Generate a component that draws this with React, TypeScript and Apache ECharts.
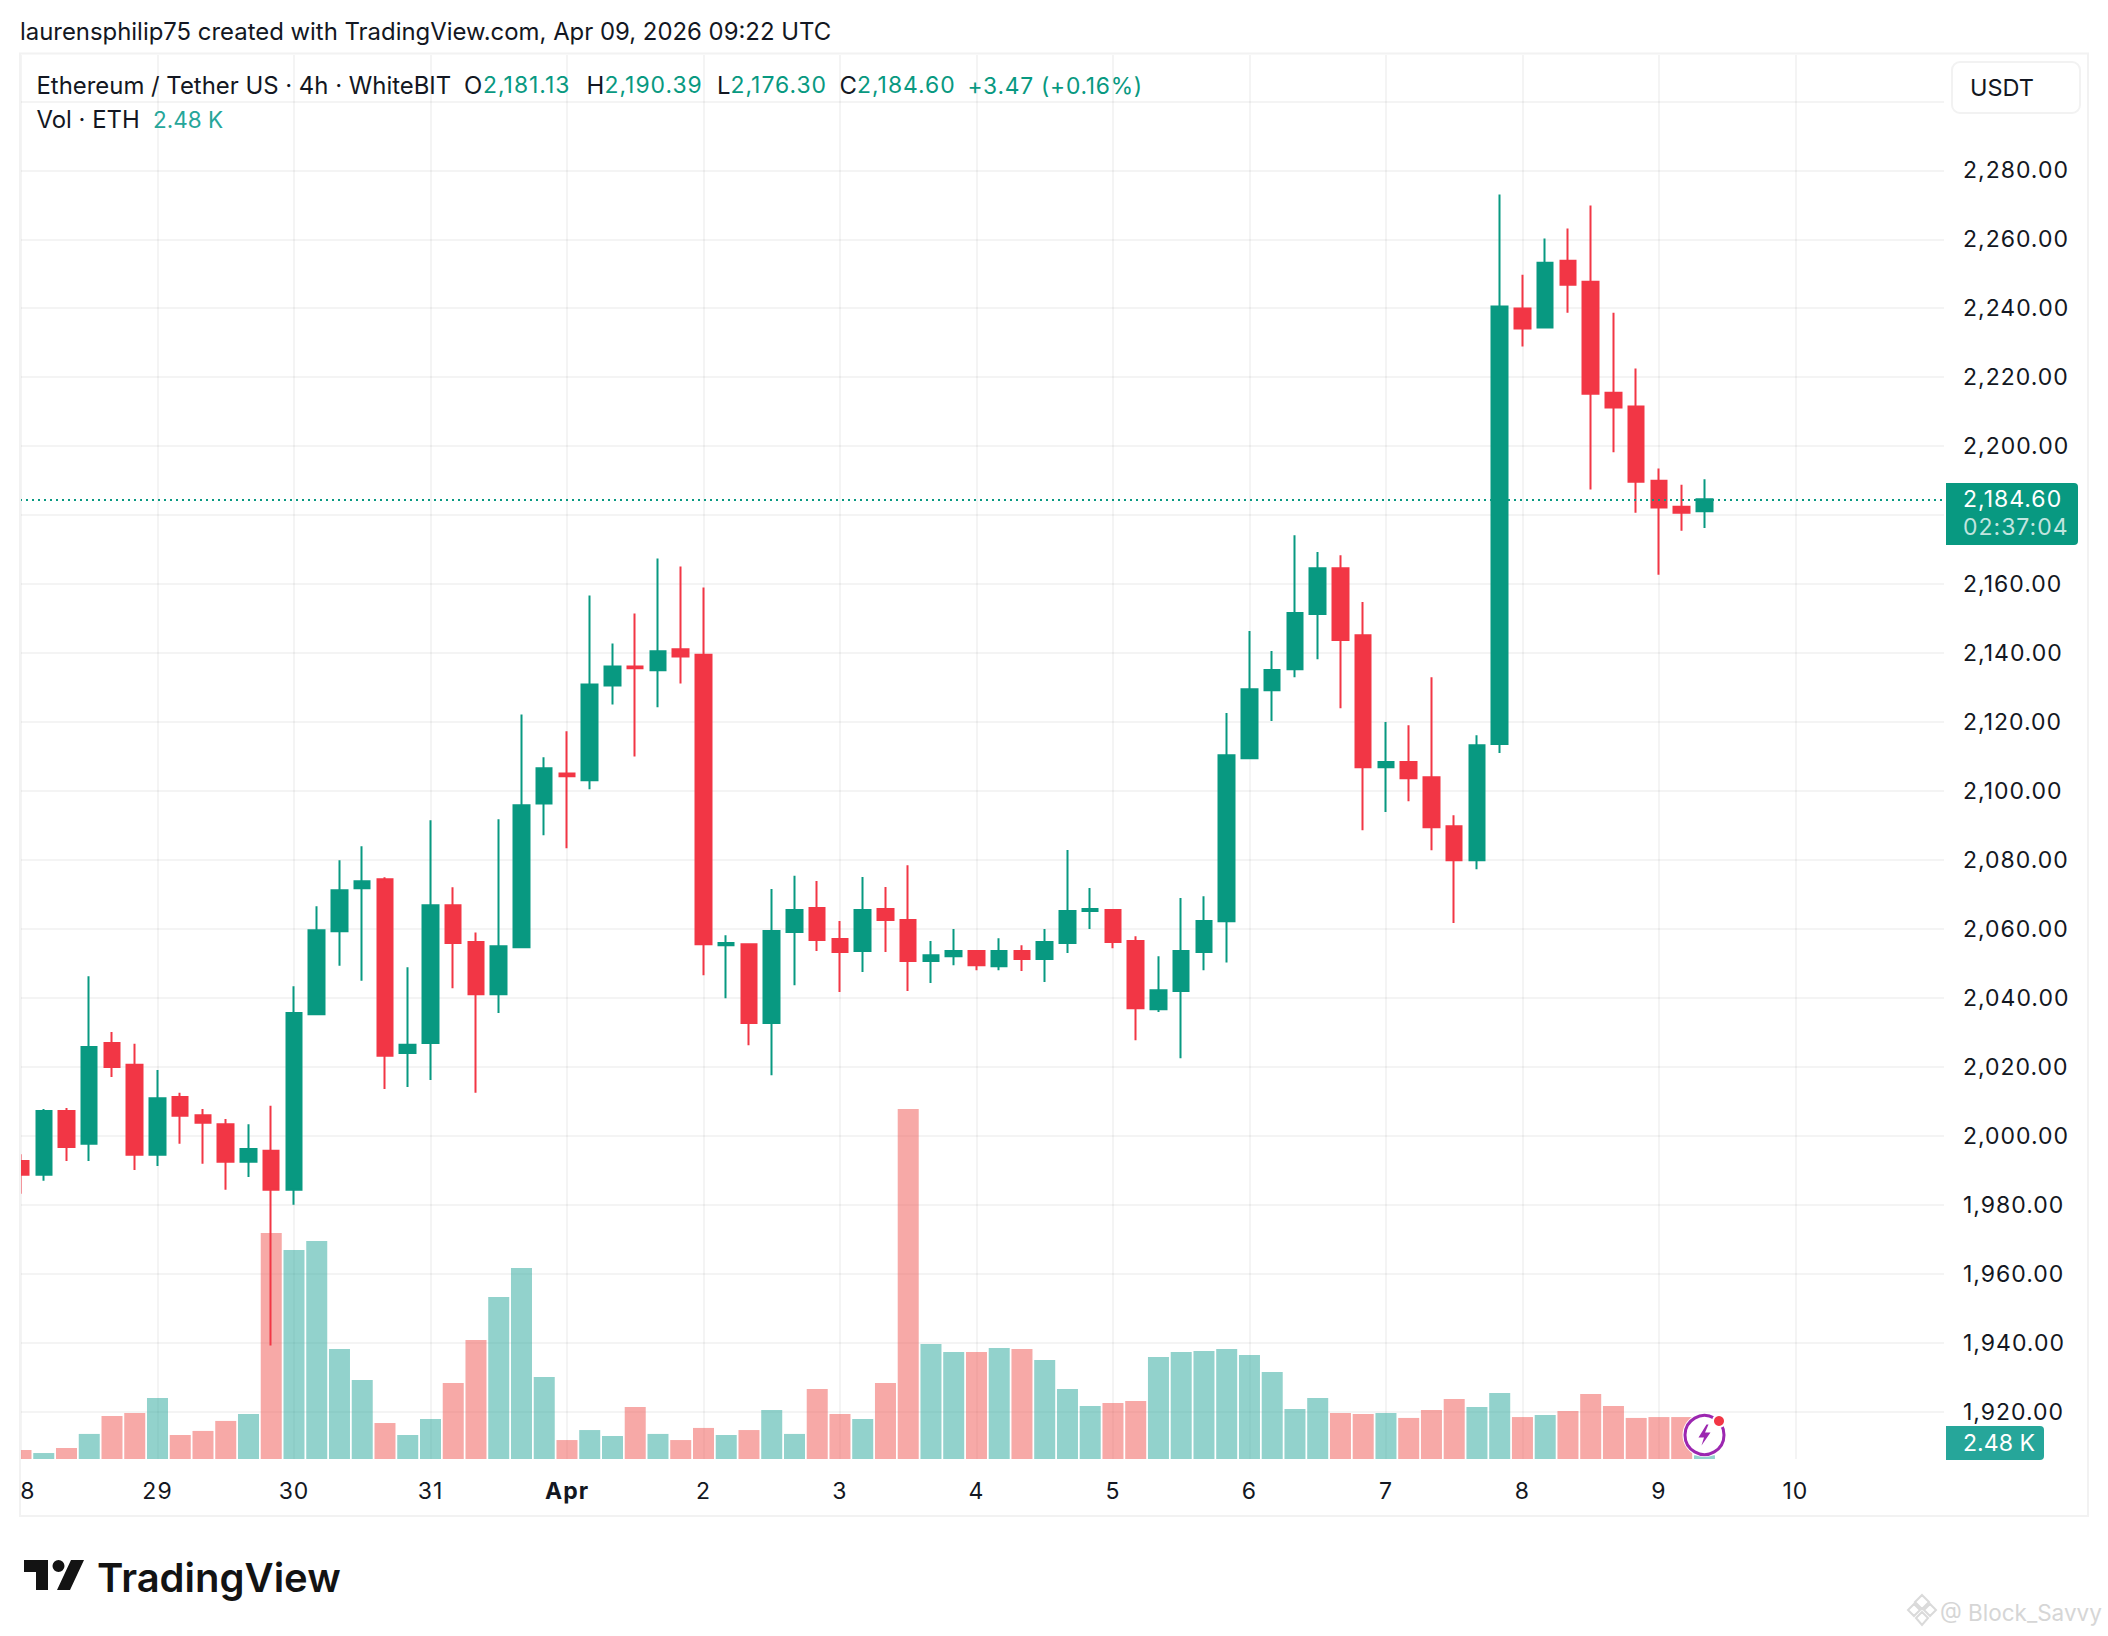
import React, { useEffect, useRef } from "react";
import * as echarts from "echarts";

const opens = [1992.7,1988.7,2007.2,1997.7,2026.9,2020.6,1994.5,2011.3,2006,2003.4,1992.5,1995.7,1984.4,2035.3,2059.3,2071.8,2074.4,2024,2026.9,2066.9,2056.2,2041.1,2054.7,2096.4,2105.1,2103.1,2130.6,2136.1,2135,2141.1,2139.5,2055.3,2055.6,2032.7,2059.1,2066.1,2057.1,2053.6,2065.8,2062.6,2050.7,2052.1,2053.6,2049.2,2053.6,2051.3,2055.9,2065.2,2065.5,2056.5,2036.7,2042,2053.3,2062.2,2109.5,2129.2,2135.3,2151.3,2164.6,2145.2,2106.9,2108.4,2104,2089.8,2079.9,2113.6,2239.9,2234.4,2253.8,2247.7,2215.5,2211.5,2190,2182.4,2181.13];
const highs = [1994.7,2007.8,2008.1,2046.3,2030.1,2026.7,2019.1,2012.5,2007.8,2004.9,2003.4,2008.7,2043.4,2066.6,2079.9,2084,2075,2048.9,2091.5,2072.1,2059,2091.8,2122.2,2109.8,2117.3,2156.7,2142.8,2151.5,2167.4,2165.1,2159,2058.2,2055.6,2071.6,2075.4,2073.9,2062.3,2075.1,2072.2,2078.5,2056.5,2060,2053.9,2057.3,2055.3,2060,2082.9,2071.9,2065.8,2057.9,2052.1,2069,2069.5,2122.6,2146.4,2140.6,2174.2,2169.3,2168.4,2154.8,2120,2119.1,2133,2093,2116.2,2273,2249.7,2260.2,2263.1,2269.8,2238.7,2222.5,2193.5,2188.8,2190.39];
const lows = [1983.2,1987,1992.7,1992.7,2017.1,1990.1,1991.3,1997.7,1991.9,1984.4,1988.1,1939.2,1980,2035.3,2049.3,2045,2013.6,2014.2,2016.2,2042.8,2012.5,2035.6,2054.4,2087.2,2083.4,2100.5,2125.1,2110,2124.3,2131.2,2046.6,2039.9,2026.3,2017.6,2043.7,2053.6,2041.7,2047.5,2053.3,2042,2044.3,2049.5,2048,2048,2047.8,2044.6,2053,2060,2054.4,2027.7,2035.9,2022.5,2048,2050.3,2109.5,2120.3,2133,2138.2,2124,2088.6,2093.9,2097,2082.8,2061.7,2077.3,2111,2228.9,2234.1,2238.7,2187.4,2198.2,2180.7,2162.7,2175.5,2176.3];
const closes = [1988.7,2007.2,1996.8,2025.8,2020,1994.5,2010.9,2005.8,2003.8,1992.5,1996.2,1984.4,2035.6,2059.6,2071.2,2073.8,2023.2,2026.4,2066.9,2055.9,2041.1,2055,2095.9,2106.6,2104.3,2130.9,2136.1,2135.6,2140.5,2139,2055.6,2055.9,2032.7,2059.4,2065.5,2056.8,2053.3,2065.5,2062.6,2050.7,2052.4,2053.6,2049.5,2053.6,2051.3,2056.2,2065.2,2065.8,2056.2,2037,2042.2,2053.6,2062.3,2110.4,2129.5,2135.1,2151.6,2164.6,2143.8,2106.9,2108.4,2103.7,2089.5,2079.9,2113.3,2240.5,2234.1,2253.2,2246.8,2215.2,2211.2,2189.7,2182.2,2180.7,2184.6];
const volumes = [6,4,7.4,16.8,28.8,30.8,40.9,16.1,18.8,25.5,30.2,151.4,140,146.1,73.7,52.9,24.1,16.1,26.8,50.9,79.7,108.5,128,54.9,12.7,19.4,15.4,34.8,16.8,12.7,20.8,16.1,19.4,32.8,16.8,46.9,30.2,26.8,50.9,234.5,77,71.7,71.7,74.4,73.7,66.3,46.9,35.5,37.5,38.9,68.3,71.7,72.4,73.7,69.7,58.3,33.5,40.9,30.8,30.2,30.8,27.5,32.8,40.2,34.8,44.2,28.1,29.5,32.2,43.6,35.5,27.5,28.1,28.1,2.48];
const priceTicks = [1920,1940,1960,1980,2000,2020,2040,2060,2080,2100,2120,2140,2160,2180,2200,2220,2240,2260,2280,2300];
const priceLabels = [1920,1940,1960,1980,2000,2020,2040,2060,2080,2100,2120,2140,2160,2200,2220,2240,2260,2280];
const dayTicks = [0,6,12,18,24,30,36,42,48,54,60,66,72,78];
const dayPositions = [0.3,6,12,18,24,30,36,42,48,54,60,66,72,78];
const dayLabels = ["8","29","30","31","Apr","2","3","4","5","6","7","8","9","10"];
const lastPrice = 2184.6;

const UP = "#089981";
const DOWN = "#F23645";
const VOL_UP = "rgba(38,166,154,0.5)";
const VOL_DOWN = "rgba(239,83,80,0.5)";
const FONT = "Inter";
const TXT = "#131722";

echarts.graphic.registerShape("tvLogo", echarts.graphic.extendPath(
  "M0 0H24V30H12V12H0Z M47 0H60L46 30H33Z M40.5 6A6 6 0 1 1 28.5 6A6 6 0 1 1 40.5 6Z", {}) as any);
echarts.graphic.registerShape("bolt", echarts.graphic.extendPath(
  "M8 0L0 13H5.5L3 21L12 8H6.5L10 0Z", {}) as any);
echarts.graphic.registerShape("binLogo", echarts.graphic.extendPath(
  "M14 0L21 7L14 14L7 7Z M6 9L0 15L6 21L12 15Z M22 9L16 15L22 21L28 15Z M14 17L8 23L14 30L20 23Z", {}) as any);

const txt = (x: number, y: number, text: string, fill: string, fontSize = 23.9, extra: any = {}) => ({
  type: "text", x, y, z: 100, silent: true,
  style: { text, fill, fontSize, fontFamily: FONT, align: "left", verticalAlign: "middle", ...extra },
});

function buildOption(): any {
  const candle = opens.map((o, i) => [i, o, closes[i], lows[i], highs[i]]);
  const vol = volumes.map((v, i) => ({
    value: [i, v],
    itemStyle: { color: closes[i] >= opens[i] ? VOL_UP : VOL_DOWN },
  }));
  const grid = "rgba(30,30,30,0.065)";
  return {
    animation: false,
    backgroundColor: "#ffffff",
    grid: { left: 20, right: 164, top: 55, bottom: 177, containLabel: false },
    xAxis: {
      type: "value",
      min: -0.044,
      max: 84.53,
      axisLine: { show: false },
      axisTick: { show: false, customValues: dayTicks },
      splitLine: { show: true, lineStyle: { color: grid, width: 1.5 } },
      axisLabel: {
        customValues: dayPositions,
        margin: 20,
        color: TXT,
        fontFamily: FONT,
        fontSize: 23,
        formatter: (v: number) => {
          const s = dayLabels[dayPositions.indexOf(v)];
          return s === "Apr" ? "{b|Apr}" : s;
        },
        rich: { b: { fontWeight: 700, fontFamily: FONT, fontSize: 23, color: TXT } },
      },
    },
    yAxis: [
      {
        type: "value",
        position: "right",
        scale: true,
        min: 1906.3,
        max: 2313.43,
        axisLine: { show: false },
        axisTick: { show: false, customValues: priceTicks },
        splitLine: { show: true, lineStyle: { color: grid, width: 1.5 } },
        axisLabel: {
          customValues: priceLabels,
          margin: 19,
          align: "left",
          color: TXT,
          fontFamily: FONT,
          fontSize: 23,
          formatter: (v: number) => v.toLocaleString("en-US", { minimumFractionDigits: 2, maximumFractionDigits: 2 }),
        },
      },
      { type: "value", show: false, min: 0, max: 940.7, splitLine: { show: false } },
    ],
    series: [
      {
        type: "bar",
        xAxisIndex: 0,
        yAxisIndex: 1,
        barWidth: 21,
        z: 2,
        data: vol,
        silent: true,
      },
      {
        type: "candlestick",
        xAxisIndex: 0,
        yAxisIndex: 0,
        barWidth: 16,
        z: 3,
        silent: true,
        itemStyle: { color: UP, color0: DOWN, borderColor: UP, borderColor0: DOWN, borderWidth: 2 },
        data: candle,
        markLine: {
          silent: true,
          symbol: "none",
          label: { show: false },
          lineStyle: { color: UP, width: 2, type: [2, 4] },
          data: [{ yAxis: lastPrice }],
        },
      },
    ],
    graphic: {
      elements: [
        { type: "rect", z: 80, silent: true, shape: { x: 0, y: 55, width: 20, height: 1404 }, style: { fill: "#ffffff" } },
        { type: "rect", z: 90, silent: true, shape: { x: 20, y: 53.5, width: 2068, height: 1462.5 }, style: { fill: "none", stroke: "#F2F2F2", lineWidth: 2 } },
        txt(20, 31.3, "laurensphilip75 created with TradingView.com, Apr 09, 2026 09:22 UTC", TXT),
        txt(36.5, 85, "Ethereum / Tether US · 4h · WhiteBIT", TXT),
        txt(464, 85, "O", TXT),
        txt(483, 85, "2,181.13", UP, 22.9),
        txt(586.5, 85, "H", TXT),
        txt(604.5, 85, "2,190.39", UP, 22.9),
        txt(717, 85, "L", TXT),
        txt(730.5, 85, "2,176.30", UP, 22.9),
        txt(839.5, 85, "C", TXT),
        txt(857, 85, "2,184.60", UP, 22.9),
        txt(967.5, 85, "+3.47 (+0.16%)", UP, 22.8),
        txt(36.5, 119.5, "Vol · ETH", TXT),
        txt(153, 119.5, "2.48 K", "#26A69A", 22.5),

        { type: "rect", z: 95, silent: true, shape: { x: 1952, y: 62, width: 128, height: 51, r: 8 }, style: { fill: "#ffffff", stroke: "#F2F2F2", lineWidth: 2 } },
        txt(1970, 87, "USDT", TXT, 23.5),

        { type: "rect", z: 95, silent: true, shape: { x: 1946, y: 483, width: 132, height: 62, r: [0, 4, 4, 0] }, style: { fill: UP } },
        txt(1963, 499, "2,184.60", "#ffffff", 23),
        txt(1963, 527, "02:37:04", "rgba(255,255,255,0.75)", 23),

        { type: "rect", z: 95, silent: true, shape: { x: 1946, y: 1426, width: 98, height: 34, r: [0, 4, 4, 0] }, style: { fill: "#26A69A" } },
        txt(1963, 1443, "2.48 K", "#ffffff", 23.1),

        { type: "circle", z: 96, silent: true, shape: { cx: 1704.5, cy: 1435, r: 22 }, style: { fill: "#ffffff" } },
        { type: "circle", z: 97, silent: true, shape: { cx: 1704.5, cy: 1435, r: 19.5 }, style: { fill: "#ffffff", stroke: "#9C27B0", lineWidth: 3 } },
        { type: "bolt", z: 98, silent: true, x: 1698.5, y: 1424.5, style: { fill: "#9C27B0" } },
        { type: "circle", z: 98, silent: true, shape: { cx: 1719, cy: 1421, r: 7 }, style: { fill: "#ffffff" } },
        { type: "circle", z: 99, silent: true, shape: { cx: 1719, cy: 1421, r: 5 }, style: { fill: "#F23645" } },

        { type: "tvLogo", z: 100, silent: true, x: 24, y: 1560, style: { fill: "#131313" } },
        txt(97, 1577, "TradingView", "#131313", 40, { fontWeight: 600 }),

        { type: "binLogo", z: 100, silent: true, x: 1908, y: 1595, style: { fill: "none", stroke: "#DADADA", lineWidth: 2 } },
        txt(1940, 1612, "@ Block_Savvy", "#D6D6D6", 22.5),
      ],
    },
  };
}

const spacingCss = `
  #chart-host text[style*="23px"] { letter-spacing: 1px; }
  #chart-host text[style*="22.9px"] { letter-spacing: 1px; }
  #chart-host text[style*="22.8px"] { letter-spacing: 0.75px; }
`;

export default function App() {
  const ref = useRef<HTMLDivElement>(null);
  useEffect(() => {
    document.body.style.margin = "0";
    const chart = echarts.init(ref.current!, undefined, { renderer: "svg" });
    chart.setOption(buildOption());
    return () => chart.dispose();
  }, []);
  return (
    <>
      <style>{spacingCss}</style>
      <div id="chart-host" ref={ref} style={{ width: 2108, height: 1636 }} />
    </>
  );
}
